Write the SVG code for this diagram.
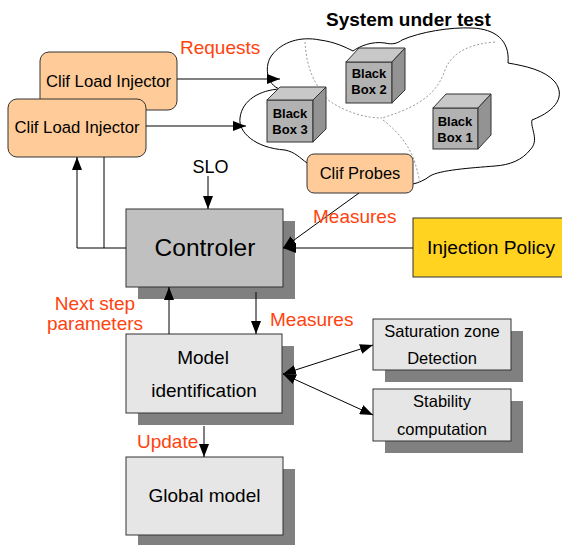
<svg xmlns="http://www.w3.org/2000/svg" width="562" height="545" viewBox="0 0 562 545">
<defs>
<style>
text{font-family:"Liberation Sans",Arial,sans-serif;fill:#000}
.lbl{fill:#ff420e;font-size:19px}
.mid{text-anchor:middle}
.box{stroke:#333;stroke-width:1}
.sh{fill:#808080}
.gray{fill:#c0c0c0}
.light{fill:#e6e6e6}
.org{fill:#ffcc99}
.cf{fill:#b2b2b2;stroke:#333}
.ct{fill:#c8c8c8;stroke:#333}
.cs{fill:#939393;stroke:#333}
.bb{font-size:13px;font-weight:bold;text-anchor:middle}
.con{fill:none;stroke:#000;stroke-width:1}
.dot{fill:none;stroke:#999;stroke-width:1;stroke-dasharray:2 2}
</style>
<marker id="ah" markerUnits="userSpaceOnUse" markerWidth="13" markerHeight="10" refX="13" refY="5" orient="auto-start-reverse">
<path d="M0,0 L13,5 L0,10 z" fill="#000"/>
</marker>
</defs>
<rect width="562" height="545" fill="#fff"/>

<g id="cloud">
<path fill="#fff" stroke="#000" stroke-width="1" d="M307,163 C300,158 295,152 285,150 C255,148 238,132 240,118 C242,100 260,90 280,89 C266,85 264,65 272,55 C282,42 300,36 320,40 C335,42 345,47 353,51 C360,46 372,41 385,43 C393,45 398,43 402,40 C420,32 450,27 472,28 C495,29 510,40 508,63 C525,66 545,70 555,82 C565,95 558,110 532,120 C530,128 540,140 530,150 C522,160 510,165 495,166 C470,168 440,170 430,176 C425,180 418,183 413,184 Z"/>
<path class="dot" d="M305,42 C306,60 310,80 328,100 C345,112 365,118 382,118"/>
<path class="dot" d="M495,42 C470,44 452,52 445,70 C438,90 425,105 382,118"/>
<path class="dot" d="M383,120 C400,133 410,148 414,160 C418,172 419,178 420,184"/>
<text x="326" y="26" font-size="19" font-weight="bold">System under test</text>
</g>

<g id="bb2">
<rect class="cf" x="346" y="62" width="46" height="41"/>
<polygon class="ct" points="346,62 359,48 405,48 392,62"/>
<polygon class="cs" points="392,62 405,48 405,90 392,103"/>
<text class="bb" x="369" y="78">Black</text>
<text class="bb" x="369" y="94">Box 2</text>
</g>
<g id="bb3">
<rect class="cf" x="267" y="100" width="46" height="42"/>
<polygon class="ct" points="267,100 280,87 326,87 313,100"/>
<polygon class="cs" points="313,100 326,87 326,129 313,142"/>
<text class="bb" x="290" y="118">Black</text>
<text class="bb" x="290" y="134">Box 3</text>
</g>
<g id="bb1">
<rect class="cf" x="433" y="108" width="45" height="41"/>
<polygon class="ct" points="433,108 446,94 491,94 478,108"/>
<polygon class="cs" points="478,108 491,94 491,135 478,149"/>
<text class="bb" x="455" y="126">Black</text>
<text class="bb" x="455" y="142">Box 1</text>
</g>

<g id="probes">
<rect class="box org" x="307" y="154" width="106" height="39" rx="7"/>
<text class="mid" x="360" y="179" font-size="16.5">Clif Probes</text>
</g>

<g id="injector1">
<rect class="box org" x="40" y="52" width="137" height="58" rx="9"/>
<text class="mid" x="108.5" y="87" font-size="16.7">Clif Load Injector</text>
</g>
<g id="injector2">
<rect class="box org" x="8" y="99" width="138" height="58" rx="9"/>
<text class="mid" x="77" y="133" font-size="16.7">Clif Load Injector</text>
</g>

<g id="controller">
<rect class="sh" x="138" y="221" width="157" height="78"/>
<rect class="box gray" x="126" y="209" width="157" height="78"/>
<text class="mid" x="205" y="256" font-size="24.5">Controler</text>
</g>

<g id="policy">
<rect class="box" fill="#ffd320" x="413" y="218" width="160" height="59"/>
<text x="427" y="254" font-size="19.2">Injection Policy</text>
</g>

<g id="model">
<rect class="sh" x="138" y="346" width="156" height="79"/>
<rect class="box light" x="126" y="334" width="156" height="79"/>
<text class="mid" x="203" y="364" font-size="19">Model</text>
<text class="mid" x="204" y="397" font-size="19">identification</text>
</g>

<g id="global">
<rect class="sh" x="138" y="469" width="157" height="78"/>
<rect class="box light" x="126" y="457" width="157" height="78"/>
<text class="mid" x="204.5" y="502" font-size="19">Global model</text>
</g>

<g id="saturation">
<rect class="sh" x="385" y="331" width="138" height="51"/>
<rect class="box light" x="373" y="319" width="138" height="51"/>
<text class="mid" x="442" y="337" font-size="16.5">Saturation zone</text>
<text class="mid" x="442" y="364" font-size="16.5">Detection</text>
</g>

<g id="stability">
<rect class="sh" x="385" y="401" width="138" height="52"/>
<rect class="box light" x="373" y="389" width="138" height="52"/>
<text class="mid" x="442" y="407" font-size="16.5">Stability</text>
<text class="mid" x="442" y="435" font-size="16.5">computation</text>
</g>

<g id="connectors">
<path class="con" d="M177,79 H280" marker-end="url(#ah)"/>
<path class="con" d="M146,126 H246" marker-end="url(#ah)"/>
<path class="con" d="M126,248 H77 V157" marker-end="url(#ah)"/>
<path class="con" d="M104,157 V248"/>
<path class="con" d="M208,176 V209" marker-end="url(#ah)"/>
<path class="con" d="M359,193 L283,248" marker-end="url(#ah)"/>
<path class="con" d="M413,248 H283" marker-end="url(#ah)"/>
<path class="con" d="M256,292 V334" marker-end="url(#ah)"/>
<path class="con" d="M169,334 V287" marker-end="url(#ah)"/>
<path class="con" d="M204,426 V457" marker-end="url(#ah)"/>
<path class="con" d="M283,374 L373,345" marker-start="url(#ah)" marker-end="url(#ah)"/>
<path class="con" d="M283,374 L373,415" marker-start="url(#ah)" marker-end="url(#ah)"/>
</g>

<g id="labels">
<text class="lbl" x="180" y="54">Requests</text>
<text x="210.5" y="173" font-size="18" class="mid">SLO</text>
<text class="lbl" x="313" y="223">Measures</text>
<text class="lbl mid" x="95" y="310">Next step</text>
<text class="lbl mid" x="95" y="330">parameters</text>
<text class="lbl" x="270" y="326">Measures</text>
<text class="lbl" x="137" y="448">Update</text>
</g>
</svg>
